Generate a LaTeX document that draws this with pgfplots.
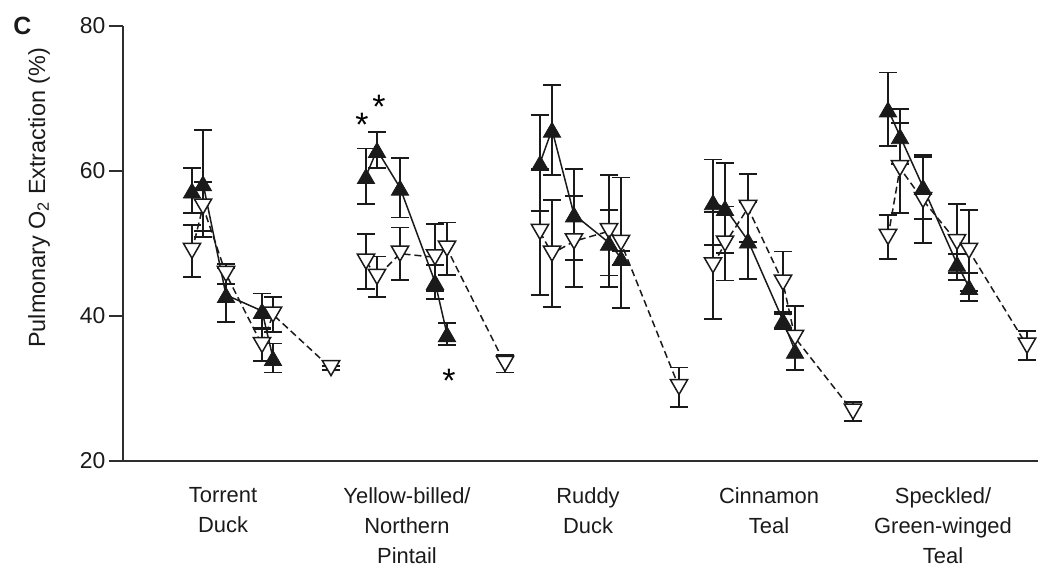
\documentclass[border=0pt]{standalone}
\usepackage{fontspec}
\setmainfont{Liberation Sans}
\usepackage{pgfplots}
\pgfplotsset{compat=1.18}
\usepackage{pgfplotstable}
\definecolor{ink}{HTML}{1A1A1A}
\definecolor{axisc}{HTML}{2E2E2E}

% x = position, a = filled (up) series, v = open (down) series, p/m = error plus/minus
\pgfplotstableread{
x a ap am v vp vm
192 57.3 3.1 3.1 49.0 3.6 3.6
203 58.3 7.4 7.4 55.1 3.4 3.4
226 42.9 3.7 3.7 45.8 1.4 1.4
262 40.7 2.4 2.4 36.0 2.2 2.2
273 34.2 2.0 2.0 40.2 2.4 2.4
331 nan 0 0 32.8 0.3 0.3
}\torrent
\pgfplotstableread{
x a ap am v vp vm
366 59.3 3.8 3.8 47.5 3.8 3.8
377 62.9 2.5 2.5 45.4 2.8 2.8
400 57.7 4.1 4.1 48.6 3.6 3.6
435 44.7 2.3 2.3 48.1 4.6 4.6
447 37.5 1.5 1.5 49.3 3.6 3.6
505 nan 0 0 33.4 1.2 1.2
}\pintail
\pgfplotstableread{
x a ap am v vp vm
540 61.1 6.6 6.6 51.6 8.7 8.7
552 65.7 6.2 6.2 48.6 7.4 7.4
574 54.0 6.3 6.3 50.3 6.3 6.3
609 50.1 4.5 4.5 51.7 7.7 7.7
621 48.0 1.0 1.0 50.1 9.0 9.0
679 nan 0 0 30.2 2.7 2.7
}\ruddy
\pgfplotstableread{
x a ap am v vp vm
713 55.7 5.9 5.9 47.0 7.4 7.4
725 54.9 6.2 6.2 50.0 5.1 5.1
748 50.4 5.3 5.3 54.9 4.7 4.7
783 39.4 1.2 1.2 44.6 4.3 4.3
795 35.2 2.7 2.7 37.0 4.4 4.4
853 nan 0 0 26.8 1.3 1.3
}\cinnamon
\pgfplotstableread{
x a ap am v vp vm
888 68.5 5.1 5.1 50.9 3.0 3.0
900 64.8 3.8 3.8 60.4 6.2 6.2
923 57.8 4.4 4.4 56.0 5.9 5.9
957 47.2 1.3 1.3 50.2 5.2 5.2
969 44.0 1.9 1.9 49.0 5.6 5.6
1027 nan 0 0 35.9 2.0 2.0
}\speckled

\pgfplotsset{
  filledser/.style={ink, line width=1.5bp, solid,
    mark=triangle*, mark size=10pt,
    mark options={solid, fill=ink, draw=ink, line width=0.8bp, yshift=-2.5bp},
    error bars/.cd, y dir=both, y explicit,
    error bar style={solid, line width=1.8bp, ink},
    error mark options={rotate=90, solid, line width=1.8bp, ink, mark size=9pt}},
  openser/.style={ink, line width=1.5bp, dash pattern=on 7bp off 4bp,
    mark=triangle*, mark size=10pt,
    mark options={solid, fill=white, draw=ink, line width=1.5bp, yshift=2.5bp, rotate=180},
    error bars/.cd, y dir=both, y explicit,
    error bar style={solid, line width=1.8bp, ink},
    error mark options={rotate=90, solid, line width=1.8bp, ink, mark size=9pt}},
}

\begin{document}
\begin{tikzpicture}
\useasboundingbox (-123bp,-107bp) rectangle (916bp,461bp);
\begin{axis}[
  at={(0,0)}, anchor=south west,
  scale only axis, width=915bp, height=435bp,
  xmin=123, xmax=1038, ymin=20, ymax=80,
  axis x line*=bottom, axis y line*=left,
  axis line style={axisc, line width=1.6bp},
  ytick={20,40,60,80},
  major tick length=14bp, tick align=outside,
  ytick style={axisc, line width=1.6bp},
  xtick={223,407,588,769,943},
  xticklabels={{Torrent\\Duck},{Yellow-billed/\\Northern\\Pintail},{Ruddy\\Duck},{Cinnamon\\Teal},{Speckled/\\Green-winged\\Teal}},
  xtick style={draw=none},
  xticklabel style={align=center, font=\fontsize{22}{30}\selectfont, yshift=-9bp, text=ink},
  yticklabel style={font=\fontsize{23}{25}\selectfont, text=ink},
  /pgf/number format/assume math mode=true,
  ylabel={Pulmonary O\textsubscript{2} Extraction (\%)},
  ylabel style={at={(axis description cs:-0.0918,0.605)}, anchor=center, font=\fontsize{23.5}{26}\selectfont, text=ink},
  clip=false,
]
\addplot[openser] table[x=x, y=v, y error plus=vp, y error minus=vm]{\torrent};
\addplot[filledser] table[x=x, y=a, y error plus=ap, y error minus=am]{\torrent};
\addplot[openser] table[x=x, y=v, y error plus=vp, y error minus=vm]{\pintail};
\addplot[filledser] table[x=x, y=a, y error plus=ap, y error minus=am]{\pintail};
\addplot[openser] table[x=x, y=v, y error plus=vp, y error minus=vm]{\ruddy};
\addplot[filledser] table[x=x, y=a, y error plus=ap, y error minus=am]{\ruddy};
\addplot[openser] table[x=x, y=v, y error plus=vp, y error minus=vm]{\cinnamon};
\addplot[filledser] table[x=x, y=a, y error plus=ap, y error minus=am]{\cinnamon};
\addplot[openser] table[x=x, y=v, y error plus=vp, y error minus=vm]{\speckled};
\addplot[filledser] table[x=x, y=a, y error plus=ap, y error minus=am]{\speckled};
% significance asterisks
\addplot[only marks, ink, mark=text, text mark={\fontsize{34}{34}\selectfont *}]
  coordinates {(362,66.4) (379,68.8) (449,31.1)};
\node[font=\bfseries\fontsize{25}{25}\selectfont, text=ink] at (rel axis cs:-0.110,1.0) {C};
\end{axis}
\end{tikzpicture}
\end{document}
